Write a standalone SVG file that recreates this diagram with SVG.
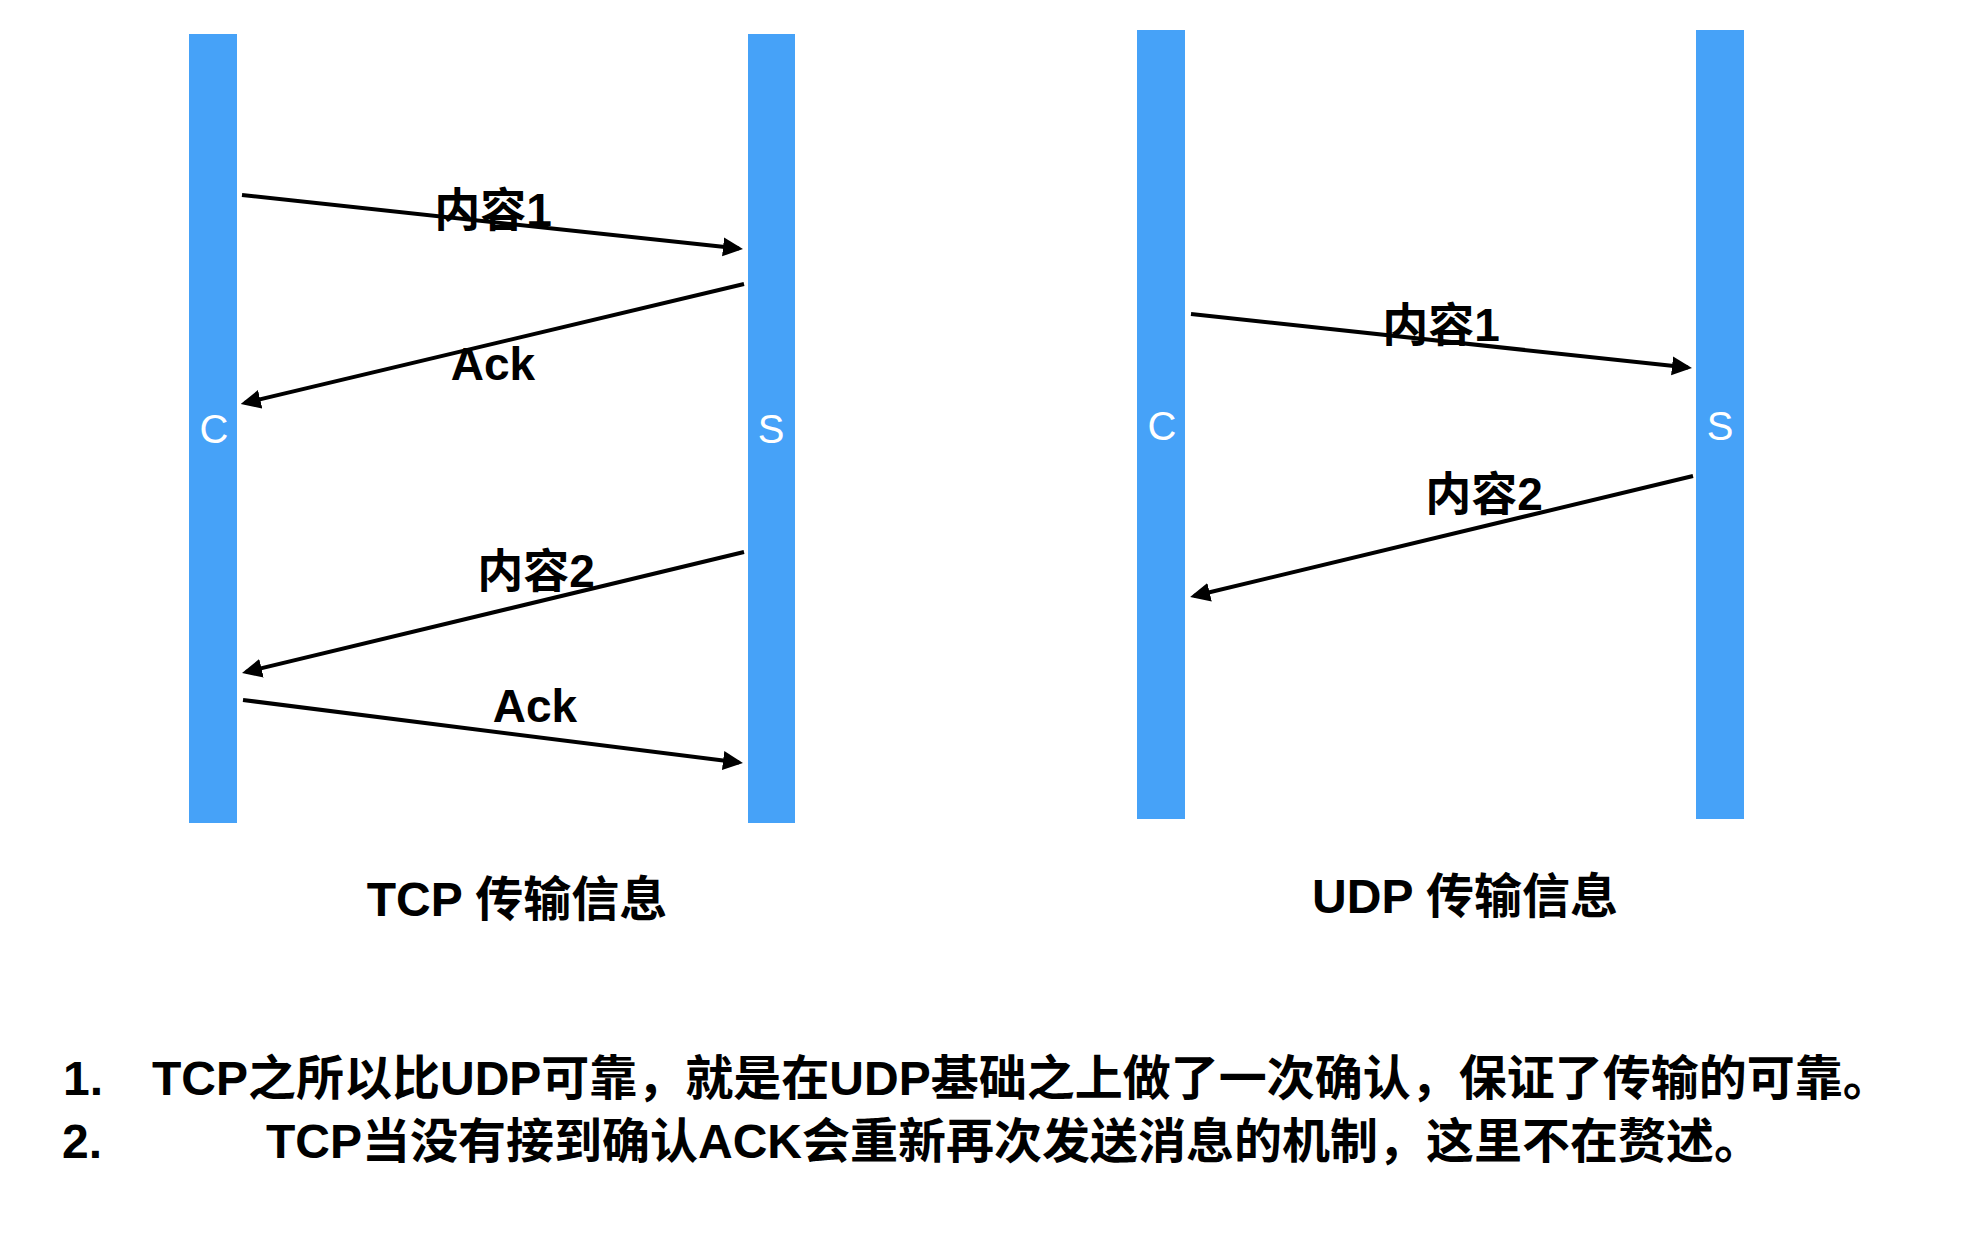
<svg xmlns="http://www.w3.org/2000/svg" width="1964" height="1244" viewBox="0 0 1964 1244">
<style>
.bar{fill:#46a2f8}
.bl{font-family:"Liberation Sans","Noto Sans CJK SC",sans-serif;font-size:40px;fill:#ffffff;text-anchor:middle}
.lab{font-family:"Liberation Sans","Noto Sans CJK SC",sans-serif;font-size:46px;font-weight:bold;fill:#000;text-anchor:middle}
.ttl{font-family:"Liberation Sans","Noto Sans CJK SC",sans-serif;font-size:48px;font-weight:bold;fill:#000;text-anchor:middle}
.note{font-family:"Liberation Sans","Noto Sans CJK SC",sans-serif;font-size:48px;font-weight:bold;fill:#000}
.ln{stroke:#000;stroke-width:4;fill:none;marker-end:url(#ah)}
</style>
<defs>
<marker id="ah" markerUnits="userSpaceOnUse" markerWidth="20" markerHeight="20" refX="16" refY="9.5" orient="auto">
<path d="M0,0 L20,9.5 L0,19 Z" fill="#000"/>
</marker>
</defs>
<rect width="1964" height="1244" fill="#ffffff"/>
<g id="tcp-c"><rect class="bar" x="189" y="34" width="48" height="789"/><text class="bl" x="214" y="443">C</text></g>
<g id="tcp-s"><rect class="bar" x="748" y="34" width="47" height="789"/><text class="bl" x="771" y="443">S</text></g>
<g id="udp-c"><rect class="bar" x="1137" y="30" width="48" height="789"/><text class="bl" x="1162" y="440">C</text></g>
<g id="udp-s"><rect class="bar" x="1696" y="30" width="48" height="789"/><text class="bl" x="1720" y="440">S</text></g>
<g id="connectors">
<line class="ln" x1="242" y1="195" x2="739" y2="248.6"/>
<line class="ln" x1="744" y1="284" x2="244.6" y2="403"/>
<line class="ln" x1="744" y1="552" x2="245.9" y2="672"/>
<line class="ln" x1="243" y1="700" x2="739" y2="762.5"/>
<line class="ln" x1="1191" y1="314" x2="1688" y2="367.6"/>
<line class="ln" x1="1693" y1="476" x2="1194" y2="596"/>
</g>
<g id="labels">
<text class="lab" x="493" y="226">内容1</text>
<text class="lab" x="493" y="380">Ack</text>
<text class="lab" x="536" y="587">内容2</text>
<text class="lab" x="535" y="722">Ack</text>
<text class="lab" x="1441" y="341">内容1</text>
<text class="lab" x="1484" y="510">内容2</text>
</g>
<g id="titles">
<text class="ttl" x="517" y="916">TCP 传输信息</text>
<text class="ttl" x="1465" y="913">UDP 传输信息</text>
</g>
<g id="notes">
<text class="note" x="63" y="1095">1.</text>
<text class="note" x="152" y="1095">TCP之所以比UDP可靠，就是在UDP基础之上做了一次确认，保证了传输的可靠。</text>
<text class="note" x="62" y="1158">2.</text>
<text class="note" x="266" y="1158">TCP当没有接到确认ACK会重新再次发送消息的机制，这里不在赘述。</text>
</g>
</svg>
